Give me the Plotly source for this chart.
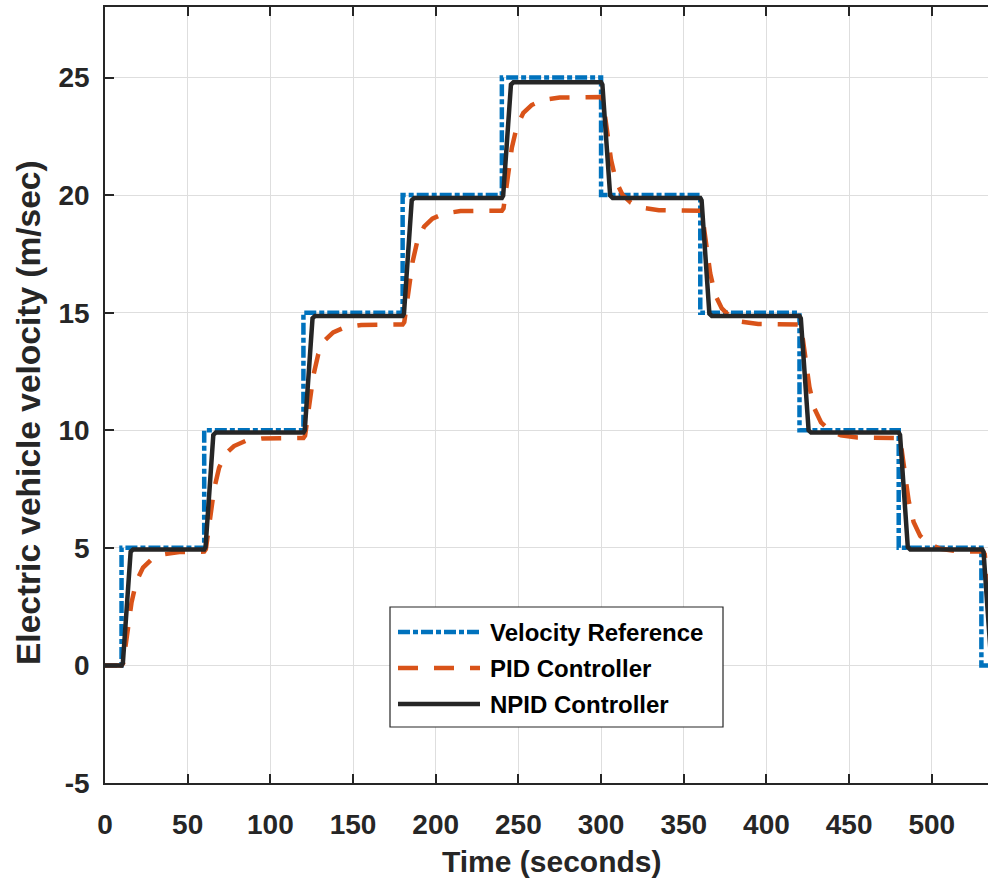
import plotly.graph_objects as go

# Velocity reference (step profile)
ref_t = [0, 10, 10, 60, 60, 120, 120, 180, 180, 240, 240, 300, 300,
         360, 360, 420, 420, 480, 480, 530, 530, 536]
ref_v = [0, 0, 5, 5, 10, 10, 15, 15, 20, 20, 25, 25, 20,
         20, 15, 15, 10, 10, 5, 5, 0, 0]

# PID controller response
pid_t = [0, 10, 11, 12.5, 14, 16, 19, 23, 28, 35, 45,
         60, 61, 62.5, 64, 66, 69, 73, 78, 85, 95,
         120, 121, 122.5, 124, 126, 129, 133, 138, 145, 155,
         180, 181, 182.5, 184, 186, 189, 193, 198, 205, 215,
         240, 241, 242.5, 244, 246, 249, 253, 258, 265, 275,
         300, 301, 302.5, 304, 306, 309, 313, 318, 325, 335,
         360, 361, 362.5, 364, 366, 369, 373, 378, 385, 395,
         420, 421, 422.5, 424, 426, 429, 433, 438, 445, 455,
         480, 481, 482.5, 484, 486, 489, 493, 498, 505, 515,
         531, 532, 533.5, 536]
pid_v = [0, 0, 0.10, 0.97, 1.84, 2.66, 3.58, 4.16, 4.50, 4.72, 4.82,
         4.84, 4.94, 5.81, 6.68, 7.50, 8.41, 9.00, 9.33, 9.55, 9.65,
         9.67, 9.77, 10.64, 11.51, 12.33, 13.24, 13.83, 14.16, 14.38, 14.48,
         14.50, 14.60, 15.47, 16.34, 17.16, 18.08, 18.66, 19.00, 19.22, 19.32,
         19.34, 19.44, 20.31, 21.18, 22.00, 22.91, 23.50, 23.83, 24.05, 24.15,
         24.17, 24.07, 23.20, 22.33, 21.51, 20.60, 20.01, 19.68, 19.46, 19.36,
         19.34, 19.24, 18.37, 17.50, 16.68, 15.76, 15.18, 14.84, 14.62, 14.52,
         14.50, 14.40, 13.53, 12.66, 11.84, 10.93, 10.34, 10.01, 9.79, 9.69,
         9.67, 9.57, 8.70, 7.83, 7.01, 6.10, 5.51, 5.18, 4.96, 4.86,
         4.84, 4.74, 3.90, 2.30]

# NPID controller response
npid_t = [0, 10, 10.8, 14.5, 15.5, 17,
          60, 60.8, 64.5, 65.5, 67,
          120, 120.8, 124.5, 125.5, 127,
          180, 180.8, 184.5, 185.5, 187,
          240, 240.8, 244.5, 245.5, 247,
          300, 300.8, 304.5, 305.5, 307,
          360, 360.8, 364.5, 365.5, 367,
          420, 420.8, 424.5, 425.5, 427,
          480, 480.8, 484.5, 485.5, 487,
          530.5, 531.3, 535, 536, 537.5]
npid_v = [0, 0, 0.10, 4.44, 4.83, 4.93,
          4.93, 5.03, 9.40, 9.80, 9.90,
          9.90, 10.00, 14.36, 14.76, 14.86,
          14.86, 14.96, 19.38, 19.78, 19.88,
          19.88, 19.98, 24.31, 24.70, 24.80,
          24.80, 24.70, 20.37, 19.98, 19.88,
          19.88, 19.78, 15.36, 14.96, 14.86,
          14.86, 14.76, 10.40, 10.00, 9.90,
          9.90, 9.80, 5.43, 5.03, 4.93,
          4.93, 4.83, 0.49, 0.10, 0.00]

x_ticks = list(range(0, 501, 50))
y_ticks = [-5, 0, 5, 10, 15, 20, 25]
y_tick_text = ["-5", "0", "5", "10", "15", "20", "25"]

series_names = ["Velocity Reference", "PID Controller", "NPID Controller"]
series_colors = ["#0072BD", "#D95319", "#262626"]
series_dash = ["12px,3px,5px,3px", "20px,16px", "solid"]

FONT = "Liberation Sans, Arial, sans-serif"
AX = "#262626"

W, H = 988, 879
ML, MR, MT, MB = 105, 0, 7, 96
PW, PH = W - ML - MR, H - MT - MB


def px_x(p):
    return (p - ML) / PW


def px_y(p):
    return (H - MB - p) / PH


fig = go.Figure()
for t, v, name, col, dash in zip([ref_t, pid_t, npid_t], [ref_v, pid_v, npid_v],
                                 series_names, series_colors, series_dash):
    fig.add_trace(go.Scatter(x=t, y=v, mode="lines", name=name, showlegend=False,
                             line=dict(color=col, width=4.5, dash=dash)))

# legend box drawn as shapes/annotations
shapes = [dict(type="rect", xref="paper", yref="paper",
               x0=px_x(390), x1=px_x(723), y0=px_y(727), y1=px_y(607),
               line=dict(color=AX, width=1.2), fillcolor="white", layer="above")]
annotations = []
row_y = [632, 668, 704]
for name, col, dash, ry in zip(series_names, series_colors, series_dash, row_y):
    shapes.append(dict(type="line", xref="paper", yref="paper",
                       x0=px_x(398), x1=px_x(480), y0=px_y(ry), y1=px_y(ry),
                       line=dict(color=col, width=4.5, dash=dash), layer="above"))
    annotations.append(dict(xref="paper", yref="paper", x=px_x(488), y=px_y(ry),
                            text=name, showarrow=False, xanchor="left", yanchor="middle",
                            font=dict(family=FONT, size=24, color="#000000", weight="bold")))

annotations.append(dict(xref="paper", yref="paper", x=px_x(552), y=px_y(861),
                        text="Time (seconds)", showarrow=False, xanchor="center",
                        yanchor="middle",
                        font=dict(family=FONT, size=30, color=AX, weight="bold")))
annotations.append(dict(xref="paper", yref="paper", x=px_x(29), y=px_y(413),
                        text="Electric vehicle velocity (m/sec)", showarrow=False,
                        textangle=-90, xanchor="center", yanchor="middle",
                        font=dict(family=FONT, size=33.5, color=AX, weight="bold")))

fig.update_layout(
    width=W, height=H,
    margin=dict(l=ML, r=MR, t=MT, b=MB, pad=0),
    paper_bgcolor="white", plot_bgcolor="white",
    shapes=shapes, annotations=annotations,
    font=dict(family=FONT, color=AX),
    xaxis=dict(range=[0, 534], tickvals=x_ticks, showgrid=True, gridcolor="#dedede",
               gridwidth=1, zeroline=False, showline=True, linecolor=AX, linewidth=1.5,
               mirror="ticks", ticks="inside", ticklen=9, tickwidth=1.5, tickcolor=AX,
               ticklabelstandoff=16,
               tickfont=dict(family=FONT, size=28, color=AX, weight="bold")),
    yaxis=dict(range=[-5, 28], tickvals=y_ticks, ticktext=y_tick_text, showgrid=True,
               gridcolor="#dedede", gridwidth=1, zeroline=False, showline=True,
               linecolor=AX, linewidth=1.5, mirror=False, ticks="inside", ticklen=9,
               tickwidth=1.5, tickcolor=AX, ticklabelstandoff=8,
               tickfont=dict(family=FONT, size=28, color=AX, weight="bold")),
)

fig.write_html("out.html")
